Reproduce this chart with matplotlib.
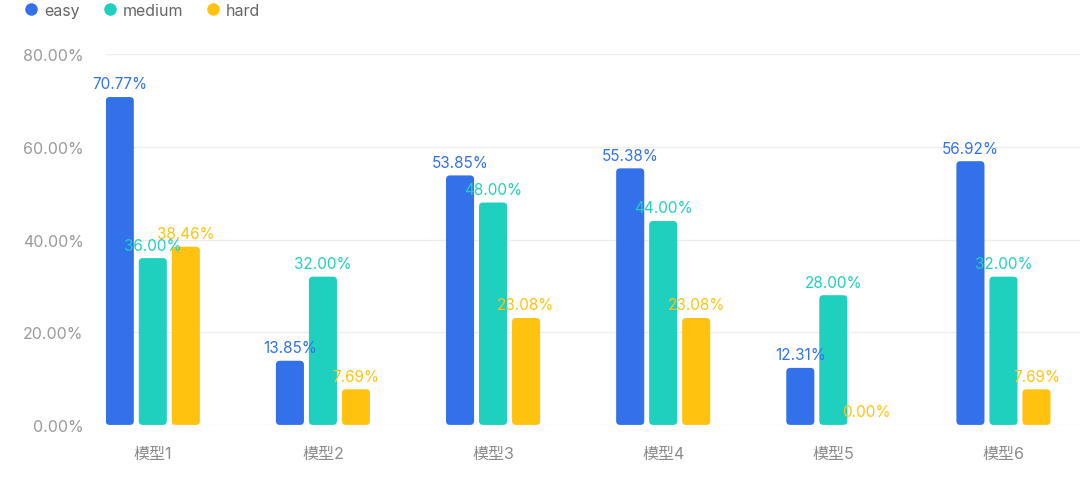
import matplotlib
matplotlib.use("Agg")
import matplotlib.pyplot as plt
from matplotlib.patches import FancyBboxPatch
from matplotlib.lines import Line2D
import numpy as np

plt.rcParams["font.family"] = ["Inter", "Noto Sans CJK SC", "DejaVu Sans"]

# ── Données ───────────────────────────────────────────
models = ["模型1", "模型2", "模型3", "模型4", "模型5", "模型6"]
easy   = [70.77, 13.85, 53.85, 55.38, 12.31, 56.92]
medium = [36.00, 32.00, 48.00, 44.00, 28.00, 32.00]
hard   = [38.46, 7.69, 23.08, 23.08, 0.00, 7.69]
series_names = ["easy", "medium", "hard"]
colors = ["#3371EB", "#1FD0BF", "#FFC30F"]

fig = plt.figure(figsize=(10.8, 4.89), dpi=100)
ax = fig.add_axes([0.098, 0.129, 0.902, 0.758])

x = np.arange(len(models))
width = 0.165
offsets = [-0.194, 0.0, 0.194]

ax.set_xlim(-0.276, 5.45)
ax.set_ylim(0, 80)

# rapport px -> données pour arrondir les coins
bbox = ax.get_window_extent()
dx_per_px = (5.45 + 0.276) / bbox.width
dy_per_px = 80 / bbox.height
radius = 4 * dx_per_px
aspect = dy_per_px / dx_per_px

for vals, name, col, off in zip([easy, medium, hard], series_names, colors, offsets):
    bars = ax.bar(x + off, vals, width=width, color=col)
    for rect, v in zip(bars, vals):
        bx, by = rect.get_x(), rect.get_y()
        bw, bh = rect.get_width(), rect.get_height()
        rect.remove()
        if bh > 0:
            ax.add_patch(FancyBboxPatch(
                (bx, by), bw, bh,
                boxstyle=f"round,pad=0,rounding_size={radius}",
                mutation_aspect=aspect, facecolor=col, edgecolor="none", zorder=3))
        ax.annotate(f"{v:.2f}%", (bx + bw / 2, bh), xytext=(0, 4),
                    textcoords="offset points", ha="center", va="bottom",
                    color=col, fontsize=11, zorder=4)

ax.set_yticks([0, 20, 40, 60, 80])
ax.set_yticklabels([f"{t:.2f}%" for t in [0, 20, 40, 60, 80]])
ax.set_xticks(x)
ax.set_xticklabels(models)
ax.tick_params(axis="y", length=0, pad=16, labelsize=11.5, labelcolor="#9A9A9A")
ax.tick_params(axis="x", length=0, pad=15, labelsize=11.5, labelcolor="#8A8A8A")
ax.grid(True, axis="y", color="#EDEDED", linewidth=1, zorder=0)
ax.set_axisbelow(True)
for s in ax.spines.values():
    s.set_visible(False)

handles = [Line2D([], [], marker="o", linestyle="none", markersize=8,
                  markerfacecolor=c, markeredgecolor=c) for c in colors]
fig.legend(handles, series_names, loc="upper left", bbox_to_anchor=(0.008, 1.022),
           ncol=3, frameon=False, handletextpad=0.3, columnspacing=1.4,
           handlelength=1.0, fontsize=11.5, labelcolor="#666666")

fig.savefig("out.png", dpi=100, facecolor="white")
